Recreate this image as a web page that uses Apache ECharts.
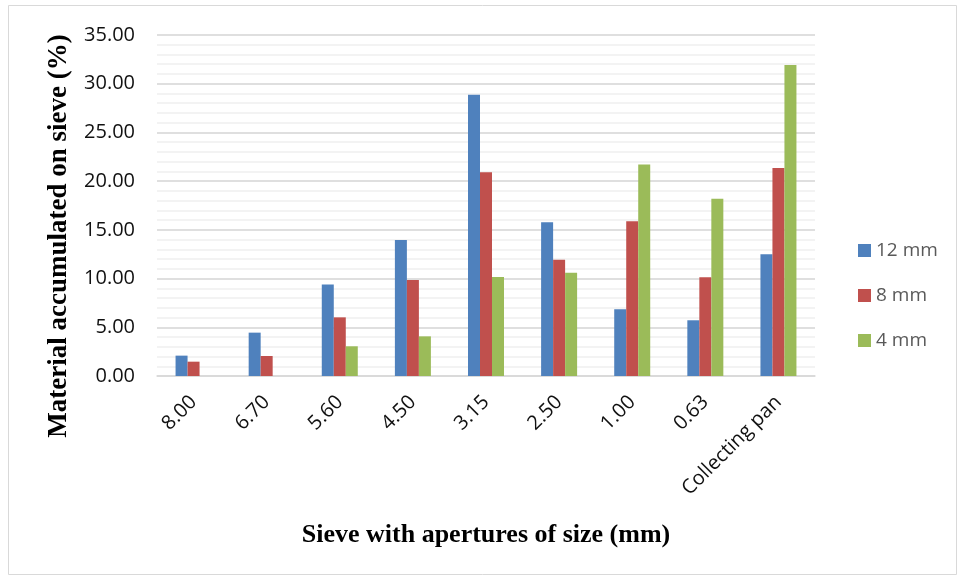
<!DOCTYPE html>
<html>
<head>
<meta charset="utf-8">
<script src="https://cdn.jsdelivr.net/npm/echarts@6/dist/echarts.min.js"></script>
<style>
  html, body { margin: 0; padding: 0; background: #fff; }
  #chart { width: 960px; height: 577px; }
</style>
</head>
<body>
<div id="chart"></div>
<script>
// Sieve apertures (mm) and the share of material retained on each
const categories = ['8.00', '6.70', '5.60', '4.50', '3.15', '2.50', '1.00', '0.63', 'Collecting pan'];
const seriesNames = ['12 mm', '8 mm', '4 mm'];
const values12mm = [2.09, 4.45, 9.38, 13.96, 28.88, 15.77, 6.85, 5.72, 12.49];
const values8mm  = [1.47, 2.05, 6.02, 9.86, 20.90, 11.94, 15.88, 10.13, 21.35];
const values4mm  = [0, 0, 3.05, 4.07, 10.16, 10.61, 21.70, 18.20, 31.92];
const yTicks = { min: 0, max: 35, interval: 5 };

const colors = ['#4f81bd', '#c0504d', '#9bbb59'];
const allValues = [values12mm, values8mm, values4mm];

const chart = echarts.init(document.getElementById('chart'), null, { renderer: 'canvas' });

chart.setOption({
  backgroundColor: '#ffffff',
  animation: false,
  graphic: [
    {
      // outer frame of the chart area
      type: 'rect',
      shape: { x: 8.5, y: 5.5, width: 948, height: 569 },
      style: { fill: 'none', stroke: '#d9d9d9', lineWidth: 1 },
      silent: true,
      z: -1
    },
    {
      // vertical axis title
      type: 'text',
      x: 59,
      y: 236,
      rotation: Math.PI / 2,
      style: {
        text: 'Material accumulated on sieve (%)',
        font: 'bold 27px "Liberation Serif"',
        fill: '#000',
        align: 'center',
        verticalAlign: 'middle'
      },
      silent: true
    }
  ],
  grid: { left: 157, right: 145, top: 35, bottom: 201, containLabel: false },
  legend: {
    orient: 'vertical',
    left: 853,
    top: 236,
    itemWidth: 13,
    itemHeight: 13,
    itemGap: 26,
    icon: 'rect',
    data: seriesNames,
    textStyle: { fontFamily: 'Open Sans', fontSize: 19, lineHeight: 19, color: '#595959' }
  },
  xAxis: {
    type: 'category',
    data: categories,
    axisLine: { show: true, lineStyle: { color: '#d9d9d9', width: 1.5 } },
    axisTick: { show: false },
    axisLabel: {
      rotate: 45,
      interval: 0,
      margin: 23,
      fontFamily: 'Open Sans',
      fontSize: 20,
      color: '#111'
    },
    name: 'Sieve with apertures of size (mm)',
    nameLocation: 'middle',
    nameGap: 146,
    nameTextStyle: {
      fontFamily: 'Liberation Serif',
      fontWeight: 'bold',
      fontSize: 26,
      color: '#000'
    }
  },
  yAxis: {
    type: 'value',
    min: yTicks.min,
    max: yTicks.max,
    interval: yTicks.interval,
    axisLine: { show: false },
    axisTick: { show: false },
    axisLabel: {
      formatter: v => v.toFixed(2),
      fontFamily: 'Open Sans',
      fontSize: 20,
      color: '#111',
      margin: 22
    },
    splitLine: { show: true, lineStyle: { color: '#d4d4d4', width: 1.5 } },
    minorTick: { show: false, splitNumber: 5 },
    minorSplitLine: { show: true, lineStyle: { color: '#efefef', width: 1.5 } }
  },
  series: seriesNames.map((name, i) => ({
    name: name,
    type: 'bar',
    data: allValues[i],
    barWidth: 12,
    barGap: '0%',
    barCategoryGap: '50%',
    itemStyle: { color: colors[i] }
  }))
});
</script>
</body>
</html>
